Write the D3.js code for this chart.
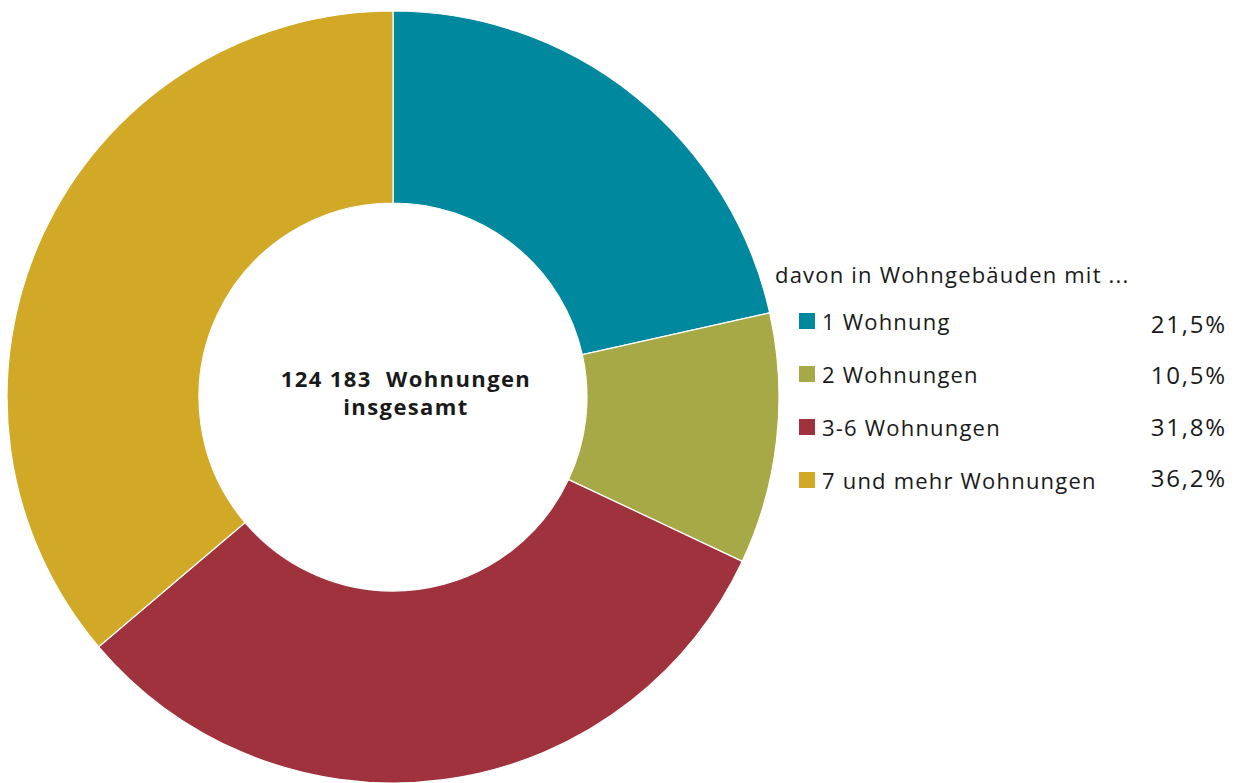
<!DOCTYPE html>
<html>
<head>
<meta charset="utf-8">
<script src="https://cdn.jsdelivr.net/npm/d3@7"></script>
<style>
  body { margin: 0; background: #fff; }
  svg { display: block; }
  text { font-family: "Open Sans", "DejaVu Sans", sans-serif; fill: #1a1a1a; white-space: pre; }
</style>
</head>
<body>
<svg id="chart" width="1243" height="783"></svg>
<script>
// categories and shares (in %)
var categories = ["1 Wohnung", "2 Wohnungen", "3-6 Wohnungen", "7 und mehr Wohnungen"];
var shares = [21.5, 10.5, 31.8, 36.2];
var shareLabels = ["21,5%", "10,5%", "31,8%", "36,2%"];
var colors = ["#00889e", "#a6a946", "#a0323d", "#d2a927"];
var totalLabel = ["124 183  Wohnungen", "insgesamt"];
var legendTitle = "davon in Wohngebäuden mit ...";

var svg = d3.select("#chart");
var cx = 393, cy = 397;
var outerR = 386, innerR = 194;

//-------------------Donut----------------------------------------
var pie = d3.pie().sort(null).value(function(d) { return d; });
var arc = d3.arc().innerRadius(innerR).outerRadius(outerR);

var g = svg.append("g").attr("transform", "translate(" + cx + "," + cy + ")");
g.selectAll("path")
    .data(pie(shares))
    .enter()
    .append("path")
    .attr("d", arc)
    .attr("fill", function(d, i) { return colors[i]; })
    .attr("stroke", "#fff")
    .attr("stroke-width", 1.2);

// center text
g.selectAll("text.center")
    .data(totalLabel)
    .enter()
    .append("text")
    .attr("class", "center")
    .attr("x", 13)
    .attr("y", function(d, i) { return -10 + i * 28; })
    .attr("text-anchor", "middle")
    .style("font-size", "22px")
    .style("font-weight", "bold")
    .style("letter-spacing", "1.4px")
    .text(function(d) { return d; });

//-------------------Légende----------------------------------------
svg.append("text")
    .attr("x", 775)
    .attr("y", 283)
    .style("font-size", "22px")
    .style("letter-spacing", "1.2px")
    .text(legendTitle);

var rowY = d3.scaleBand().domain(categories).range([303, 515]);

var rows = svg.selectAll("g.row")
    .data(categories)
    .enter()
    .append("g")
    .attr("class", "row")
    .attr("transform", function(d) { return "translate(0," + rowY(d) + ")"; });

rows.append("rect")
    .attr("x", 799)
    .attr("y", 10)
    .attr("width", 16)
    .attr("height", 16)
    .attr("fill", function(d, i) { return colors[i]; });

rows.append("text")
    .attr("x", 822)
    .attr("y", 27)
    .style("font-size", "22px")
    .style("letter-spacing", "1.2px")
    .text(function(d) { return d; });

rows.append("text")
    .attr("x", 1227)
    .attr("y", function(d, i) { return [30, 28, 27, 25][i]; })
    .attr("text-anchor", "end")
    .style("font-size", "24px")
    .style("letter-spacing", "1.8px")
    .text(function(d, i) { return shareLabels[i]; });
</script>
</body>
</html>
